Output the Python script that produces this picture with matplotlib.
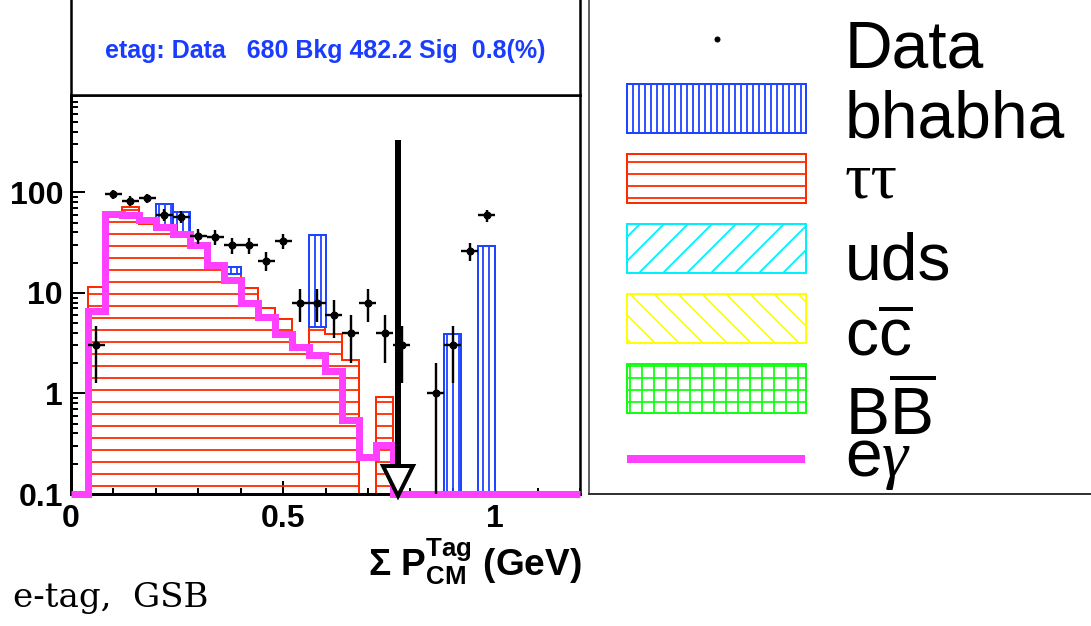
import numpy as np
import matplotlib
matplotlib.use("Agg")
import matplotlib.pyplot as plt
from matplotlib.patches import Rectangle
from matplotlib.ticker import MultipleLocator, LogLocator, NullFormatter
from matplotlib.transforms import offset_copy

# hatch spacing scales with dpi; 72 keeps it close to the ROOT look
DPI = 72
W, H = 1091, 626
PT = 72.0 / DPI   # points per pixel

plt.rcParams['font.family'] = ['Liberation Sans', 'DejaVu Sans']
plt.rcParams['mathtext.fontset'] = 'custom'
plt.rcParams['mathtext.rm'] = 'Liberation Sans'
plt.rcParams['mathtext.bf'] = 'Liberation Sans:bold'
plt.rcParams['mathtext.it'] = 'Liberation Serif:italic'
plt.rcParams['hatch.linewidth'] = 1.8 * PT

# 30 bins of 40 MeV, 0 - 1.2 GeV
edges = np.round(np.arange(31) * 0.04, 2)
centers = 0.5 * (edges[:-1] + edges[1:])

data = np.array([0, 3, 96, 82, 87, 60, 57, 37, 36, 30,
                 30, 21, 33, 8, 8, 6, 4, 8, 4, 3,
                 0, 1, 3, 26, 59, 0, 0, 0, 0, 0], dtype=float)
tautau = np.array([0, 11.5, 62, 71.6, 48, 45, 38, 30, 20, 15.3,
                   11.1, 7.0, 5.5, 3.0, 4.55, 3.9, 2.17, 0, 0.93, 0,
                   0, 0, 0, 0, 0, 0, 0, 0, 0, 0])
uds = np.zeros(30)
ccbar = np.zeros(30)
bbbar = np.zeros(30)
bhabha = np.array([0, 0, 0, 0, 0, 31, 26, 0, 0, 2.8,
                   0, 0, 0, 0, 33, 0, 0, 0, 0, 0,
                   0, 0, 3.9, 0, 29, 0, 0, 0, 0, 0])
egamma = np.array([0, 6.6, 60.5, 60, 53.6, 45.6, 38.2, 29.9, 18.9, 13.5,
                   8.0, 5.7, 3.9, 2.9, 2.4, 1.66, 0.55, 0.235, 0.31, 0,
                   0, 0, 0, 0, 0, 0, 0, 0, 0, 0])

cut_value = 0.77
cut_top = 330

summary = "etag: Data   680 Bkg 482.2 Sig  0.8(%)"

RED = '#ff2a00'
BLUE = '#1f44ff'
CYAN = '#00f0ff'
YELLOW = '#ffff00'
GREEN = '#11ff11'
MAGENTA = '#ff40ff'

YMIN, YMAX = 0.1, 930
FLOOR = 0.01

fig = plt.figure(figsize=(W / DPI, H / DPI), dpi=DPI)

# ---- main histogram pad
ax = fig.add_axes([71 / W, 1 - 494 / H, 509 / W, 399 / H])
ax.set_yscale('log')
ax.set_xlim(0, 1.2)
ax.set_ylim(YMIN, YMAX)

ax.stairs(np.maximum(tautau, FLOOR), edges, baseline=FLOOR, fill=True,
          facecolor='none', edgecolor=RED, hatch='-', linewidth=2 * PT, zorder=2)

# remaining backgrounds stacked on top of tau tau
bottom = np.maximum(tautau, FLOOR)
for comp, col, hat in [(uds, CYAN, '/'), (ccbar, YELLOW, '\\'),
                       (bbbar, GREEN, '+'), (bhabha, BLUE, '||')]:
    m = comp > 0
    if m.any():
        ax.bar(centers[m], comp[m], width=0.04, bottom=bottom[m],
               facecolor='none', edgecolor=col, hatch=hat,
               linewidth=2 * PT, zorder=2)
    bottom = bottom + comp

ax.stairs(np.maximum(egamma, YMIN), edges, baseline=None, fill=False,
          color=MAGENTA, linewidth=7 * PT, clip_on=False, zorder=3)

m = data > 0
ax.errorbar(centers[m], data[m], xerr=0.02, yerr=np.sqrt(data[m]),
            fmt='o', color='black', ms=7 * PT, elinewidth=2.4 * PT,
            capsize=0, zorder=4)

# cut arrow
ax.plot([cut_value, cut_value], [cut_top, YMIN], color='black',
        linewidth=6 * PT, solid_capstyle='butt', zorder=5)
tri = offset_copy(ax.transData, fig=fig, x=0, y=13, units='dots')
ax.plot([cut_value], [YMIN], marker='v', ms=30 * PT, mfc='white', mec='black',
        mew=4 * PT, transform=tri, clip_on=False, zorder=6)

ax.set_xticks([0, 0.5, 1], labels=['0', '0.5', '1'])
ax.xaxis.set_minor_locator(MultipleLocator(0.1))
ax.set_yticks([0.1, 1, 10, 100], labels=['0.1', '1', '10', '100'])
ax.yaxis.set_minor_locator(LogLocator(base=10, subs=np.arange(2, 10)))
ax.yaxis.set_minor_formatter(NullFormatter())
ax.tick_params(which='both', direction='in', top=False, right=False,
               width=2 * PT, labelsize=32 * PT)
ax.tick_params(axis='y', which='major', length=14 * PT, pad=8 * PT)
ax.tick_params(axis='y', which='minor', length=7 * PT)
ax.tick_params(axis='x', which='major', length=13 * PT, pad=10 * PT)
ax.tick_params(axis='x', which='minor', length=6 * PT)
for lab in ax.get_xticklabels() + ax.get_yticklabels():
    lab.set_fontweight('bold')
for side, lw in [('left', 3), ('bottom', 3), ('right', 2.5), ('top', 2.5)]:
    ax.spines[side].set_linewidth(lw * PT)

fig.text(582 / W, 1 - 576 / H,
         r"$\mathbf{\Sigma}$ $\mathbf{P}^{\mathbf{Tag}}_{\mathbf{CM}}$ (GeV)",
         ha='right', va='baseline', fontsize=37 * PT, fontweight='bold')

# ---- summary pad above the histogram
ax_top = fig.add_axes([71 / W, 1 - 95 / H, 509 / W, 95 / H + 0.02])
ax_top.set_xticks([])
ax_top.set_yticks([])
ax_top.spines['top'].set_visible(False)
for side in ['left', 'right', 'bottom']:
    ax_top.spines[side].set_linewidth(2.5 * PT)
fig.text(325 / W, 1 - 58 / H, summary, ha='center', va='baseline',
         fontsize=25 * PT, fontweight='bold', color='#1a3cff')

# ---- legend pad (pixel coordinates, y down)
lg = fig.add_axes([589 / W, 1 - 493.5 / H, (W - 589) / W + 0.02, 493.5 / H + 0.02])
lg.set_xlim(589, 589 + (W - 589) + 0.02 * W)
lg.set_ylim(493.5, -0.02 * H)
lg.set_xticks([])
lg.set_yticks([])
lg.spines['top'].set_visible(False)
lg.spines['right'].set_visible(False)
lg.spines['left'].set_color('#666666')
lg.spines['left'].set_linewidth(2 * PT)
lg.spines['bottom'].set_color('#333333')
lg.spines['bottom'].set_linewidth(2 * PT)

lg.plot([717], [39], 'o', color='black', ms=5 * PT)
boxes = [(84, BLUE, '||'), (154, RED, '-'), (224, CYAN, '/'),
         (294, YELLOW, '\\'), (364, GREEN, '+')]
for y0, col, hat in boxes:
    lg.add_patch(Rectangle((627, y0), 179, 49, facecolor='none', edgecolor=col,
                           hatch=hat, linewidth=2 * PT))
lg.plot([627, 805], [459, 459], color=MAGENTA, linewidth=8 * PT,
        solid_capstyle='butt')

entries = [('Data', 68, None), ('bhabha', 137, None),
           ('ττ', 198, 'Liberation Serif'), ('uds', 280, None),
           (r'c$\overline{\mathrm{c}}$', 355, None),
           (r'B$\overline{\mathrm{B}}$', 435, None),
           (r'e$\gamma$', 476, None)]
for txt, yb, fam in entries:
    kw = {'family': fam} if fam else {}
    lg.text(845, yb, txt, ha='left', va='baseline', fontsize=66 * PT, **kw)

fig.text(13 / W, 1 - 607 / H, 'e-tag,  GSB', family='DejaVu Serif',
         ha='left', va='baseline', fontsize=34 * PT)

fig.savefig('out.png', dpi=DPI)
